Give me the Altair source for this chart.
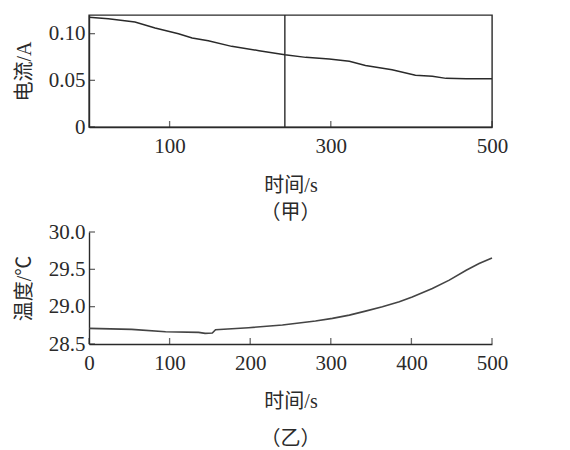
import altair as alt
import pandas as pd

# ---- data ----
t_current = [0, 24, 57, 82, 111, 128, 148, 177, 211, 243, 269, 298, 323, 343, 376, 405, 426, 443, 468, 500]
current = [0.1175, 0.116, 0.1125, 0.106, 0.100, 0.0954, 0.0925, 0.0864, 0.0818, 0.0775,
           0.0746, 0.0729, 0.0704, 0.066, 0.0614, 0.0554, 0.0543, 0.0521, 0.0518, 0.0518]
t_temp = [0, 53, 95, 136, 144, 153, 157, 198, 240, 281, 302, 323, 343, 364, 385, 401, 426, 447, 468, 484, 500]
temp = [28.709, 28.696, 28.665, 28.656, 28.642, 28.647, 28.691, 28.718, 28.754, 28.807, 28.843,
        28.887, 28.94, 28.998, 29.065, 29.13, 29.243, 29.355, 29.488, 29.577, 29.653]
marker_t = [243]

top_x_ticks = [100, 300, 500]
top_y_ticks = [0, 0.05, 0.10]
bot_x_ticks = [0, 100, 200, 300, 400, 500]
bot_y_ticks = [28.5, 29.0, 29.5, 30.0]

x_title = "时间/s"
top_y_title = "电流/A"
bot_y_title = "温度/℃"
top_caption = "（甲）"
bot_caption = "（乙）"

df_cur = pd.DataFrame({"t": t_current, "v": current})
df_tmp = pd.DataFrame({"t": t_temp, "v": temp})
df_mark = pd.DataFrame({"t": marker_t})

INK = "#2a2a2a"
NUM_FONT = "Liberation Serif"
TXT_FONT = "Liberation Serif, Noto Sans CJK SC"
TICK = 6


def ax(values, title, fmt_expr, label_pad, title_pad):
    return alt.Axis(
        values=values,
        title=title,
        labelExpr=fmt_expr,
        ticks=False,
        domainColor=INK,
        domainWidth=1.4,
        labelFont=NUM_FONT,
        labelFontSize=21,
        labelColor=INK,
        labelPadding=label_pad,
        titleFont=TXT_FONT,
        titleFontSize=20,
        titleFontWeight="normal",
        titleColor=INK,
        titlePadding=title_pad,
        grid=False,
        labelFlush=False,
        labelOverlap=False,
    )


def inward_ticks(values, field, enc):
    df = pd.DataFrame({field: values})
    if field == "t":
        return alt.Chart(df).mark_tick(color=INK, thickness=1.3, size=TICK, orient="vertical").encode(
            x=enc, y=alt.value(H - TICK / 2))
    return alt.Chart(df).mark_tick(color=INK, thickness=1.3, size=TICK, orient="horizontal").encode(
        y=enc, x=alt.value(TICK / 2))


W, H = 403, 112

# ---------- top panel (甲) ----------
top_x = alt.X("t:Q", scale=alt.Scale(domain=[0, 500], nice=False),
              axis=ax(top_x_ticks, x_title, "format(datum.value, 'd')", 8, 19))
top_y = alt.Y("v:Q", scale=alt.Scale(domain=[0, 0.12], nice=False),
              axis=ax(top_y_ticks, top_y_title,
                      "datum.value == 0 ? '0' : format(datum.value, '.2f')", 4, 14))

top_line = alt.Chart(df_cur).mark_line(color=INK, strokeWidth=1.5).encode(x=top_x, y=top_y)
top_rule = alt.Chart(df_mark).mark_rule(color=INK, strokeWidth=1.4).encode(x=top_x)

top = alt.layer(
    top_line, top_rule,
    inward_ticks(top_x_ticks, "t", top_x),
    inward_ticks(top_y_ticks, "v", top_y),
).properties(
    width=W, height=H,
    view=alt.ViewBackground(stroke=INK, strokeWidth=1.4),
    title=alt.TitleParams(top_caption, orient="bottom", font="Noto Sans CJK SC",
                          fontSize=20, fontWeight="normal", color=INK, offset=8),
)

# ---------- bottom panel (乙) ----------
bot_x = alt.X("t:Q", scale=alt.Scale(domain=[0, 500], nice=False),
              axis=ax(bot_x_ticks, x_title, "format(datum.value, 'd')", 8, 18))
bot_y = alt.Y("v:Q", scale=alt.Scale(domain=[28.5, 30.0], nice=False, zero=False),
              axis=ax(bot_y_ticks, bot_y_title, "format(datum.value, '.1f')", 4, 14))

bot_line = alt.Chart(df_tmp).mark_line(color="#444444", strokeWidth=1.6).encode(x=bot_x, y=bot_y)

bottom = alt.layer(
    bot_line,
    inward_ticks(bot_x_ticks, "t", bot_x),
    inward_ticks(bot_y_ticks, "v", bot_y),
).properties(
    width=W, height=H,
    view=alt.ViewBackground(stroke="transparent"),
    title=alt.TitleParams(bot_caption, orient="bottom", font="Noto Sans CJK SC",
                          fontSize=20, fontWeight="normal", color=INK, offset=18),
)

chart = alt.vconcat(top, bottom, spacing=-4).properties(
    padding={"left": 5, "top": 5, "right": 5, "bottom": 5}
).configure(background="white")

chart.save("out.html", embed_options={"renderer": "svg", "actions": False})
